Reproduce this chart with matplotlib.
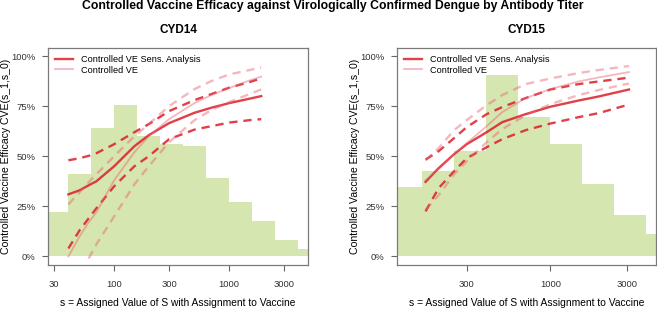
"""Controlled VE vs antibody titer, CYD14 / CYD15 panels."""

import numpy as np
import matplotlib
matplotlib.use("Agg")
import matplotlib.pyplot as plt
from matplotlib.lines import Line2D

plt.rcParams["font.family"] = ["Liberation Sans", "DejaVu Sans"]

# ---- histogram of titers (bin edges in log10 units, height in %) ----
cyd14_edges = [1.4, 1.6, 1.8, 2.0, 2.2, 2.4, 2.6, 2.8, 3.0, 3.2, 3.4, 3.6, 3.8]
cyd14_hist = [22.2, 41.2, 64.2, 75.8, 60.3, 56.2, 55.0, 39.2, 27.2, 17.5, 8.3, 3.8]
cyd15_edges = [2.0, 2.2, 2.4, 2.6, 2.8, 3.0, 3.2, 3.4, 3.6, 3.8]
cyd15_hist = [34.5, 42.8, 52.8, 90.3, 69.7, 56.3, 36.2, 20.5, 11.3]

# ---- CVE curves (%), read at these titers ----
cyd14_s = [40, 50, 60, 70, 100, 150, 200, 300, 500, 700, 1000, 1500, 1900]
cyd14_sens = [31, 33, 35.5, 37.5, 45, 55, 60.5, 66.5, 71.7, 74.2, 76.5, 78.7, 80]
cyd14_sens_hi = [48, 49, 50.2, 51.5, 56, 62, 66, 72.5, 78, 81, 84.2, 87, 88.8]
cyd14_sens_lo = [4, 13, 19, 24, 35, 45, 50, 58.5, 63.3, 65, 66.8, 68, 68.5]
cyd14_ve = [0, 10, 17, 22, 38, 52, 60, 68.5, 76.5, 80.5, 84, 87.8, 89.7]
cyd14_ve_hi = [26, 32, 37, 41, 50, 60, 66, 75, 83.5, 87.5, 90.8, 93, 94.3]
cyd14_ve_lo = [np.nan, np.nan, -1, 6, 20, 36, 45, 57, 68, 73, 77, 81, 83.3]

cyd15_s = [166, 200, 250, 300, 400, 500, 700, 1000, 1500, 2000, 3100]
cyd15_sens = [37.2, 44, 51, 56, 62, 67, 71, 74.7, 77.8, 79.8, 83.3]
cyd15_sens_hi = [48.3, 52.5, 59, 64.5, 71, 74.5, 79, 83.3, 86, 87.3, 89.2]
cyd15_sens_lo = [22.5, 34, 42.5, 49, 54.5, 58.5, 63, 66.3, 69.5, 71.5, 75.8]
cyd15_ve = [38, 43.5, 51, 56.5, 65, 72, 79, 83.5, 87.3, 89.3, 92]
cyd15_ve_hi = [48, 54, 63, 68, 75.5, 80.5, 86, 88.8, 91.5, 93, 95]
cyd15_ve_lo = [23.3, 30.5, 41, 47.5, 57, 63.5, 70.5, 76, 80.5, 83, 86.3]

RED = "#dc1e28"
PINK = "#ea6070"
GREEN = "#d5e6b0"
GREY = "#666666"


def panel(ax, title, edges, hist, s, sens, sens_hi, sens_lo, ve, ve_hi, ve_lo, xlim, xticks):
    ax.stairs(hist, 10 ** np.array(edges), fill=True, color=GREEN, lw=0, zorder=1)
    dash = dict(dashes=(3.5, 2.5))
    ax.plot(s, sens, color=RED, lw=1.7, alpha=0.85, zorder=3)
    ax.plot(s, sens_hi, color=RED, lw=1.7, alpha=0.85, zorder=3, **dash)
    ax.plot(s, sens_lo, color=RED, lw=1.7, alpha=0.85, zorder=3, **dash)
    ax.plot(s, ve, color=PINK, lw=1.3, alpha=0.45, zorder=4)
    ax.plot(s, ve_hi, color=PINK, lw=1.7, alpha=0.45, zorder=4, **dash)
    ax.plot(s, ve_lo, color=PINK, lw=1.7, alpha=0.45, zorder=4, **dash)

    ax.set_xscale("log")
    ax.set_xlim(*xlim)
    ax.set_ylim(-4, 104)
    ax.set_xticks(xticks)
    ax.set_xticklabels([str(t) for t in xticks])
    ax.xaxis.set_minor_locator(plt.NullLocator())
    ax.set_yticks([0, 25, 50, 75, 100])
    ax.set_yticklabels(["0%", "25%", "50%", "75%", "100%"])
    ax.tick_params(axis="both", direction="out", length=4.5, width=0.8, color=GREY,
                   labelsize=6.8, labelcolor="#333333")
    ax.tick_params(axis="x", pad=7)
    ax.tick_params(axis="y", pad=4.5)
    for sp in ax.spines.values():
        sp.set_color("#7a7a7a")
        sp.set_linewidth(0.9)
    ax.set_xlabel("s = Assigned Value of S with Assignment to Vaccine", fontsize=7.4, labelpad=6)
    ax.set_ylabel("Controlled Vaccine Efficacy CVE(s_1,s_0)", fontsize=7.6, va="center")
    w = ax.get_position().width * 657
    ax.yaxis.set_label_coords(-42 / w, 0.5)
    ax.set_title(title, fontsize=8.5, fontweight="bold", pad=11)

    handles = [Line2D([], [], color=RED, lw=1.7, alpha=0.85),
               Line2D([], [], color=PINK, lw=1.3, alpha=0.45)]
    ax.legend(handles, ["Controlled VE Sens. Analysis", "Controlled VE"], loc="upper left",
              frameon=False, fontsize=6.6, handlelength=2.0, handletextpad=0.9,
              borderaxespad=0.35, labelspacing=0.2)


fig = plt.figure(figsize=(6.57, 3.15), dpi=100)
ax1 = fig.add_axes([48 / 657, 50.5 / 315, 260 / 657, 216.5 / 315])
ax2 = fig.add_axes([396.7 / 657, 50.5 / 315, 259.3 / 657, 216.5 / 315])

panel(ax1, "CYD14", cyd14_edges, cyd14_hist, cyd14_s, cyd14_sens, cyd14_sens_hi, cyd14_sens_lo,
      cyd14_ve, cyd14_ve_hi, cyd14_ve_lo, (26.6, 4850), [30, 100, 300, 1000, 3000])
panel(ax2, "CYD15", cyd15_edges, cyd15_hist, cyd15_s, cyd15_sens, cyd15_sens_hi, cyd15_sens_lo,
      cyd15_ve, cyd15_ve_hi, cyd15_ve_lo, (109.6, 4571), [300, 1000, 3000])

fig.text(333 / 657, 1 - 6.5 / 315, "Controlled Vaccine Efficacy against Virologically Confirmed Dengue by Antibody Titer",
         ha="center", va="center", fontsize=8.8, fontweight="bold")

fig.savefig("out.png", dpi=100)
